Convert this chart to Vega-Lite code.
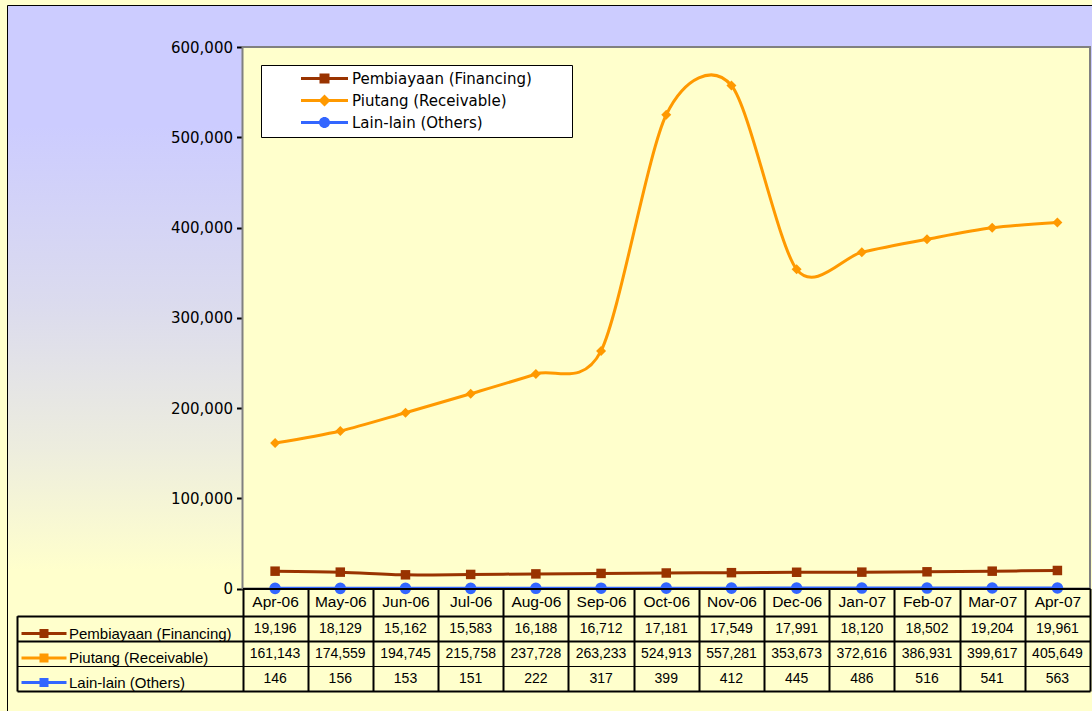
{
  "$schema": "https://vega.github.io/schema/vega-lite/v6.json",
  "width": 1085,
  "height": 706,
  "autosize": {"type": "none"},
  "padding": {"left": 7, "top": 5, "right": 0, "bottom": 0},
  "background": "#FFFFCC",
  "config": {
    "view": {
      "fill": {"gradient": "linear", "x1": 0, "y1": 0, "x2": 0, "y2": 1,
        "stops": [{"offset": 0.17, "color": "#CCCCFF"}, {"offset": 0.42, "color": "#DBDBEE"}, {"offset": 0.63, "color": "#EDEDDE"}, {"offset": 0.8, "color": "#FFFFCC"}]},
      "stroke": "#000000", "strokeWidth": 1
    },
    "axis": {"grid": false, "title": null, "domainColor": "#000000", "tickColor": "#000000", "labelColor": "#000000"}
  },
  "datasets": {
    "long": [
      {"i": 0, "month": "Apr-06", "series": "Pembiayaan (Financing)", "value": 19196},
      {"i": 1, "month": "May-06", "series": "Pembiayaan (Financing)", "value": 18129},
      {"i": 2, "month": "Jun-06", "series": "Pembiayaan (Financing)", "value": 15162},
      {"i": 3, "month": "Jul-06", "series": "Pembiayaan (Financing)", "value": 15583},
      {"i": 4, "month": "Aug-06", "series": "Pembiayaan (Financing)", "value": 16188},
      {"i": 5, "month": "Sep-06", "series": "Pembiayaan (Financing)", "value": 16712},
      {"i": 6, "month": "Oct-06", "series": "Pembiayaan (Financing)", "value": 17181},
      {"i": 7, "month": "Nov-06", "series": "Pembiayaan (Financing)", "value": 17549},
      {"i": 8, "month": "Dec-06", "series": "Pembiayaan (Financing)", "value": 17991},
      {"i": 9, "month": "Jan-07", "series": "Pembiayaan (Financing)", "value": 18120},
      {"i": 10, "month": "Feb-07", "series": "Pembiayaan (Financing)", "value": 18502},
      {"i": 11, "month": "Mar-07", "series": "Pembiayaan (Financing)", "value": 19204},
      {"i": 12, "month": "Apr-07", "series": "Pembiayaan (Financing)", "value": 19961},
      {"i": 0, "month": "Apr-06", "series": "Piutang (Receivable)", "value": 161143},
      {"i": 1, "month": "May-06", "series": "Piutang (Receivable)", "value": 174559},
      {"i": 2, "month": "Jun-06", "series": "Piutang (Receivable)", "value": 194745},
      {"i": 3, "month": "Jul-06", "series": "Piutang (Receivable)", "value": 215758},
      {"i": 4, "month": "Aug-06", "series": "Piutang (Receivable)", "value": 237728},
      {"i": 5, "month": "Sep-06", "series": "Piutang (Receivable)", "value": 263233},
      {"i": 6, "month": "Oct-06", "series": "Piutang (Receivable)", "value": 524913},
      {"i": 7, "month": "Nov-06", "series": "Piutang (Receivable)", "value": 557281},
      {"i": 8, "month": "Dec-06", "series": "Piutang (Receivable)", "value": 353673},
      {"i": 9, "month": "Jan-07", "series": "Piutang (Receivable)", "value": 372616},
      {"i": 10, "month": "Feb-07", "series": "Piutang (Receivable)", "value": 386931},
      {"i": 11, "month": "Mar-07", "series": "Piutang (Receivable)", "value": 399617},
      {"i": 12, "month": "Apr-07", "series": "Piutang (Receivable)", "value": 405649},
      {"i": 0, "month": "Apr-06", "series": "Lain-lain (Others)", "value": 146},
      {"i": 1, "month": "May-06", "series": "Lain-lain (Others)", "value": 156},
      {"i": 2, "month": "Jun-06", "series": "Lain-lain (Others)", "value": 153},
      {"i": 3, "month": "Jul-06", "series": "Lain-lain (Others)", "value": 151},
      {"i": 4, "month": "Aug-06", "series": "Lain-lain (Others)", "value": 222},
      {"i": 5, "month": "Sep-06", "series": "Lain-lain (Others)", "value": 317},
      {"i": 6, "month": "Oct-06", "series": "Lain-lain (Others)", "value": 399},
      {"i": 7, "month": "Nov-06", "series": "Lain-lain (Others)", "value": 412},
      {"i": 8, "month": "Dec-06", "series": "Lain-lain (Others)", "value": 445},
      {"i": 9, "month": "Jan-07", "series": "Lain-lain (Others)", "value": 486},
      {"i": 10, "month": "Feb-07", "series": "Lain-lain (Others)", "value": 516},
      {"i": 11, "month": "Mar-07", "series": "Lain-lain (Others)", "value": 541},
      {"i": 12, "month": "Apr-07", "series": "Lain-lain (Others)", "value": 563}
    ]
  },
  "data": {"name": "long"},
  "resolve": {"scale": {"y": "independent"}},
  "layer": [
    {
      "layer": [
        {
          "data": {"values": [{}]},
          "mark": {"type": "rect", "fill": "#FFFFCC", "stroke": "#808080", "strokeWidth": 2},
          "encoding": {
            "x": {"datum": "Apr-06", "type": "ordinal", "bandPosition": 0,
              "scale": {"type": "band", "domain": ["Apr-06","May-06","Jun-06","Jul-06","Aug-06","Sep-06","Oct-06","Nov-06","Dec-06","Jan-07","Feb-07","Mar-07","Apr-07"],
                "range": [235.5, 1083], "paddingInner": 0, "paddingOuter": 0},
              "axis": {"orient": "bottom", "offset": -122.5, "domainWidth": 2, "tickBand": "extent", "tickSize": 102.5, "tickWidth": 2,
                "labelFont": "Liberation Sans", "labelFontSize": 15.5, "labelBaseline": "middle", "labelPadding": -89.5, "labelAngle": 0,
                "labelOverlap": false, "labelFlush": false, "title": null}},
            "x2": {"datum": "Apr-07", "bandPosition": 1},
            "y": {"datum": 0, "type": "quantitative",
              "scale": {"domain": [0, 600000], "range": [583.5, 42], "nice": false, "zero": true},
              "axis": {"orient": "left", "offset": -235.5, "values": [0, 100000, 200000, 300000, 400000, 500000, 600000], "format": ",d",
                "labelFont": "DejaVu Sans", "labelFontSize": 15, "tickSize": 6, "tickWidth": 2, "domainWidth": 2, "labelPadding": 4, "title": null}},
            "y2": {"datum": 600000}
          }
        },
        {
          "mark": {"type": "line", "interpolate": "cardinal", "tension": 0.15, "strokeWidth": 3},
          "encoding": {
            "x": {"field": "month", "type": "ordinal", "bandPosition": 0.5},
            "y": {"field": "value", "type": "quantitative"},
            "order": {"field": "i", "type": "quantitative"},
            "stroke": {"field": "series", "type": "nominal", "sort": null,
              "scale": {"range": ["#993300", "#FF9900", "#3366FF"]},
              "legend": {"orient": "bottom-left", "offset": 19, "title": null, "padding": 0, "rowPadding": 5.5,
                "symbolType": "M-4.5,0H4.5M-0.6,-0.6H0.6V0.6H-0.6ZM-0.3,-0.3H0.3V0.3H-0.3Z",
                "symbolStrokeWidth": 3, "symbolSize": 100, "symbolOffset": 10.5, "labelOffset": 17.5, "labelLimit": 0,
                "symbolOpacity": 1,
                "labelFont": "Liberation Sans", "labelFontSize": 15, "labelColor": "#000000"}
            }
          }
        },
        {
          "transform": [{"filter": "datum.series === 'Pembiayaan (Financing)'"}],
          "mark": {"type": "point", "filled": true, "opacity": 1, "shape": "square", "size": 90, "fill": "#993300"},
          "encoding": {
            "x": {"field": "month", "type": "ordinal", "bandPosition": 0.5},
            "y": {"field": "value", "type": "quantitative"}
          }
        },
        {
          "transform": [{"filter": "datum.series === 'Piutang (Receivable)'"}],
          "mark": {"type": "point", "filled": true, "opacity": 1, "shape": "diamond", "size": 100, "fill": "#FF9900"},
          "encoding": {
            "x": {"field": "month", "type": "ordinal", "bandPosition": 0.5},
            "y": {"field": "value", "type": "quantitative"}
          }
        },
        {
          "transform": [{"filter": "datum.series === 'Lain-lain (Others)'"}],
          "mark": {"type": "point", "filled": true, "opacity": 1, "shape": "circle", "size": 135, "fill": "#3366FF"},
          "encoding": {
            "x": {"field": "month", "type": "ordinal", "bandPosition": 0.5},
            "y": {"field": "value", "type": "quantitative"}
          }
        },
        {
          "transform": [{"filter": "false"}],
          "mark": {"type": "point", "filled": true, "opacity": 1},
          "encoding": {
            "x": {"field": "month", "type": "ordinal", "bandPosition": 0.5},
            "y": {"field": "value", "type": "quantitative"},
            "fill": {"field": "series", "type": "nominal",
              "scale": {"domain": ["Pembiayaan (Financing)", "Piutang (Receivable)", "Lain-lain (Others)"], "range": ["#993300", "#FF9900", "#3366FF"]},
              "legend": {"orient": "none", "legendX": 254, "legendY": 60, "title": null,
                "fillColor": "#FFFFFF", "strokeColor": "#000000", "padding": 6, "rowPadding": 4,
                "symbolSize": 100, "symbolOffset": 50, "labelOffset": 20, "labelLimit": 0, "symbolOpacity": 1,
                "labelFont": "DejaVu Sans", "labelFontSize": 15, "labelColor": "#000000",
                "labelExpr": "datum.label + '\u00a0\u00a0\u00a0\u00a0\u00a0\u00a0\u00a0\u200b'"}},
            "shape": {"field": "series", "type": "nominal",
              "scale": {"domain": ["Pembiayaan (Financing)", "Piutang (Receivable)", "Lain-lain (Others)"],
                "range": ["M-4.7,-0.3H4.7V0.3H-4.7ZM-1,-1H1V1H-1Z",
                          "M-4.7,-0.3H4.7V0.3H-4.7ZM0,-1.2L1.2,0L0,1.2L-1.2,0Z",
                          "M-4.7,-0.3H4.7V0.3H-4.7ZM-1.1,0A1.1,1.1,0,1,1,1.1,0A1.1,1.1,0,1,1,-1.1,0Z"]},
              "legend": {"orient": "none", "legendX": 254, "legendY": 60, "title": null,
                "fillColor": "#FFFFFF", "strokeColor": "#000000", "padding": 6, "rowPadding": 4,
                "symbolSize": 100, "symbolOffset": 50, "labelOffset": 20, "labelLimit": 0, "symbolOpacity": 1,
                "labelFont": "DejaVu Sans", "labelFontSize": 15, "labelColor": "#000000",
                "labelExpr": "datum.label + '\u00a0\u00a0\u00a0\u00a0\u00a0\u00a0\u00a0\u200b'"}}
          }
        }
      ]
    },
    {
      "mark": {"type": "text", "font": "Liberation Sans", "fontSize": 14, "color": "#000000", "dy": 1},
      "encoding": {
        "x": {"field": "month", "type": "ordinal", "bandPosition": 0.5},
        "y": {"field": "series", "type": "nominal",
          "scale": {"type": "band", "domain": ["Pembiayaan (Financing)", "Piutang (Receivable)", "Lain-lain (Others)"], "range": [610.7, 686], "paddingInner": 0, "paddingOuter": 0},
          "axis": {"orient": "left", "offset": -10, "labels": false, "tickBand": "extent", "tickSize": -225.5,
            "tickWidth": {"condition": {"test": "datum.value === 'Piutang (Receivable)'", "value": 1}, "value": 2},
            "domainWidth": 2, "grid": true, "gridColor": "#000000",
            "gridWidth": {"condition": {"test": "datum.value === 'Piutang (Receivable)'", "value": 1}, "value": 2},
            "title": null}},
        "text": {"field": "value", "type": "quantitative", "format": ","}
      }
    }
  ]
}
